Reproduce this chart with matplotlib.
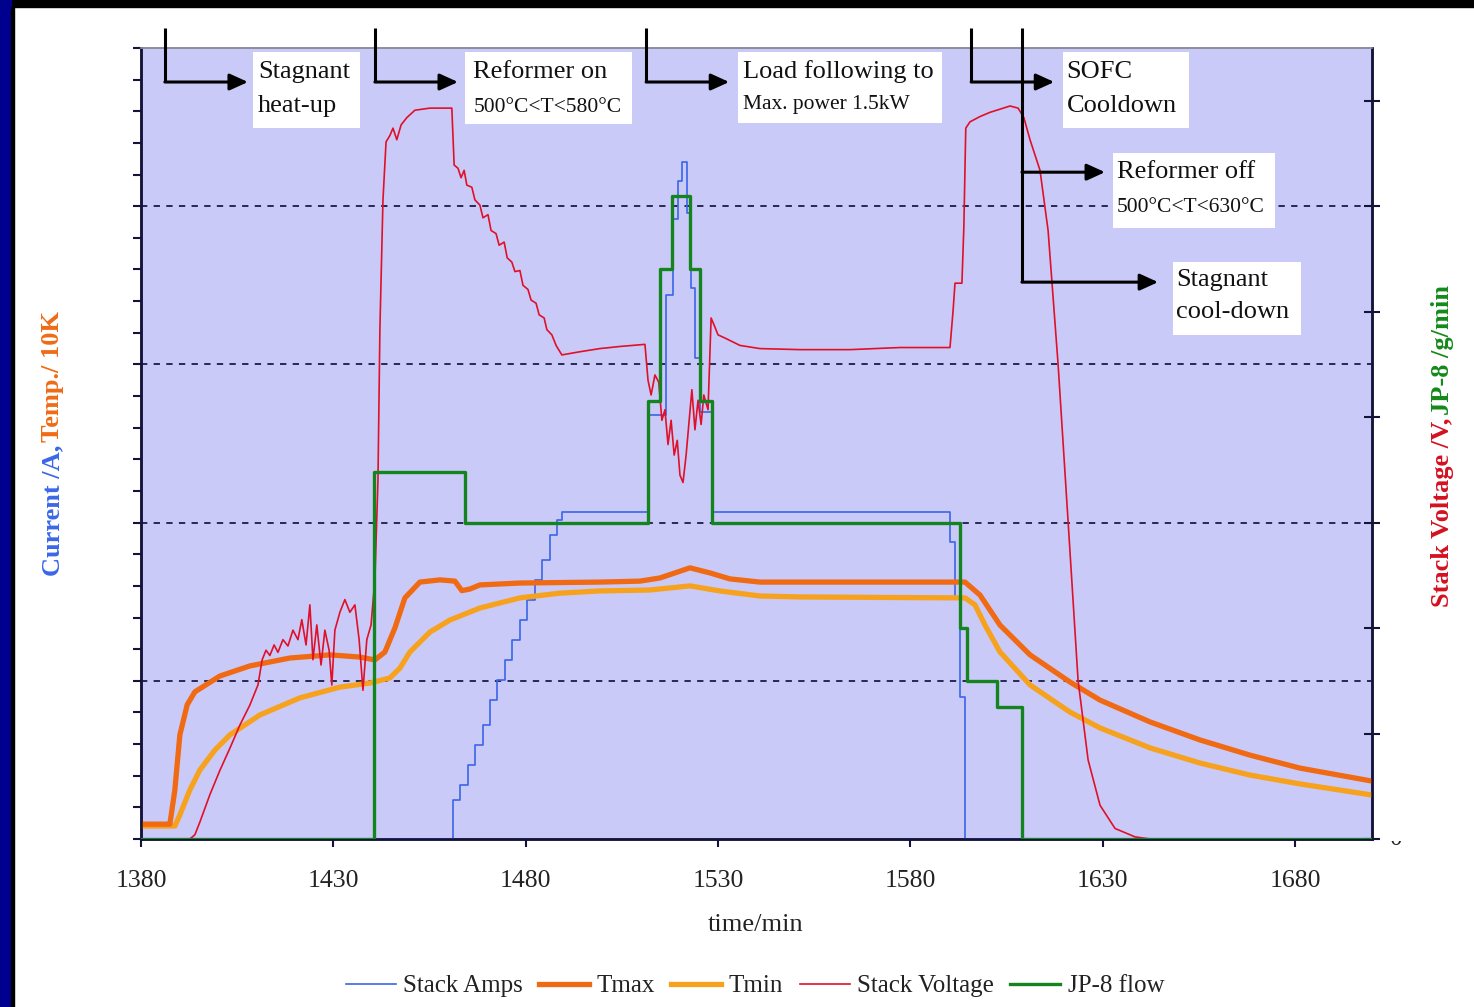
import matplotlib
matplotlib.use('Agg')
import matplotlib.pyplot as plt
from matplotlib.patches import Rectangle
from matplotlib.lines import Line2D
from matplotlib.transforms import Bbox, TransformedBbox, blended_transform_factory

plt.rcParams['font.family'] = ['Liberation Serif', 'DejaVu Serif']

# Stack current (A) - stepwise load changes
amps_t = [1380, 1461.1, 1462.9, 1465.0, 1466.8, 1468.9, 1470.7, 1472.5, 1474.6, 1476.4,
          1478.5, 1480.3, 1482.4, 1484.2, 1486.3, 1488.1, 1489.4, 1511.8, 1516.5, 1518.4,
          1519.6, 1520.6, 1521.9, 1522.9, 1524.0, 1525.3, 1528.4, 1590.3, 1591.6, 1592.9,
          1594.2, 1700]
amps = [0, 1.23, 1.71, 2.34, 2.97, 3.60, 4.39, 5.03, 5.66, 6.29,
        6.92, 7.55, 8.19, 8.82, 9.61, 10.08, 10.34, 13.4, 17.2, 19.6,
        20.8, 21.4, 19.8, 17.4, 15.2, 13.5, 10.34, 9.4, 7.6, 4.5,
        0, 0]

# Stack temperatures (K/10)
tmax_t = [1380, 1387.5, 1388.8, 1390.1, 1392.0, 1394.0, 1400.5, 1408.3, 1418.7, 1429.1,
          1436.9, 1440.8, 1443.4, 1446.0, 1448.6, 1452.5, 1457.7, 1461.6, 1463.4, 1465.5,
          1468.1, 1478.5, 1499.3, 1509.7, 1514.9, 1522.7, 1527.9, 1533.1, 1540.9, 1594.2,
          1598.1, 1603.3, 1611.1, 1621.5, 1629.3, 1642.3, 1655.3, 1668.3, 1681.3, 1700]
tmax = [0.47, 0.47, 1.55, 3.29, 4.24, 4.65, 5.15, 5.47, 5.72, 5.82,
        5.75, 5.66, 5.91, 6.67, 7.62, 8.12, 8.19, 8.15, 7.85, 7.90,
        8.03, 8.09, 8.12, 8.15, 8.25, 8.57, 8.41, 8.22, 8.12, 8.12,
        7.71, 6.76, 5.82, 4.96, 4.39, 3.70, 3.13, 2.65, 2.24, 1.83]

tmin_t = [1380, 1388.8, 1390.1, 1392.7, 1395.3, 1399.2, 1403.1, 1410.9, 1421.3, 1431.7,
          1439.5, 1444.7, 1447.3, 1449.9, 1455.1, 1460.3, 1468.1, 1478.5, 1488.9, 1499.3,
          1512.3, 1522.7, 1530.5, 1540.9, 1551.3, 1594.2, 1596.8, 1599.4, 1603.3, 1611.1,
          1621.5, 1629.3, 1642.3, 1655.3, 1668.3, 1681.3, 1700]
tmin = [0.41, 0.41, 0.76, 1.55, 2.18, 2.81, 3.29, 3.92, 4.46, 4.80,
        4.93, 5.09, 5.40, 5.91, 6.54, 6.92, 7.30, 7.62, 7.77, 7.84,
        7.87, 8.00, 7.84, 7.68, 7.65, 7.62, 7.40, 6.76, 5.91, 4.87,
        4.01, 3.51, 2.88, 2.40, 2.02, 1.74, 1.39]

# Stack voltage (V)
volt_t = [1380, 1392.7, 1394.0, 1395.3, 1397.9, 1400.5, 1403.1, 1405.7, 1408.3, 1410.4,
          1411.5, 1412.5, 1413.5, 1414.6, 1415.6, 1416.9, 1418.2, 1419.5, 1420.8, 1421.8,
          1422.9, 1423.9, 1424.7, 1425.7, 1426.8, 1427.8, 1428.9, 1429.6, 1430.4, 1431.7,
          1433.0, 1434.3, 1435.6, 1436.7, 1437.7, 1438.7, 1439.8, 1440.8, 1441.6, 1442.1,
          1442.9, 1443.7, 1444.7, 1445.5, 1446.5, 1447.6, 1449.1, 1451.2, 1455.1, 1460.8,
          1461.4, 1462.4, 1463.2, 1464.0, 1464.7, 1466.0, 1466.8, 1468.1, 1468.9, 1470.2,
          1471.0, 1472.3, 1473.1, 1474.4, 1475.2, 1476.4, 1477.2, 1478.5, 1479.3, 1480.6,
          1481.4, 1482.7, 1483.5, 1484.8, 1485.5, 1486.8, 1487.9, 1489.4, 1494.1, 1499.3,
          1504.5, 1511.0, 1511.8, 1512.6, 1513.6, 1514.6, 1515.4, 1516.2, 1517.0, 1517.8,
          1518.6, 1519.4, 1520.1, 1520.9, 1521.7, 1522.5, 1523.2, 1524.0, 1524.8, 1525.6,
          1526.3, 1527.4, 1528.2, 1528.9, 1530.0, 1531.8, 1535.7, 1540.9, 1551.3, 1564.3,
          1577.3, 1590.3, 1591.1, 1591.6, 1593.4, 1593.9, 1594.4, 1595.5, 1598.1, 1600.7,
          1603.3, 1605.9, 1608.0, 1609.5, 1611.1, 1613.7, 1615.8, 1617.1, 1618.4, 1621.0,
          1623.6, 1626.2, 1629.3, 1633.2, 1638.4, 1642.3, 1700]
volt = [0, 0, 0.04, 0.16, 0.42, 0.65, 0.86, 1.08, 1.27, 1.46,
        1.70, 1.79, 1.74, 1.84, 1.77, 1.89, 1.83, 1.98, 1.89, 2.08,
        1.84, 2.22, 1.70, 2.03, 1.65, 1.98, 1.79, 1.46, 1.98, 2.15,
        2.27, 2.15, 2.22, 1.89, 1.41, 1.89, 2.03, 2.46, 3.40, 4.83,
        6.06, 6.61, 6.67, 6.74, 6.63, 6.77, 6.84, 6.91, 6.93, 6.93,
        6.39, 6.36, 6.27, 6.34, 6.20, 6.18, 6.06, 6.01, 5.89, 5.92,
        5.77, 5.74, 5.63, 5.66, 5.51, 5.47, 5.38, 5.39, 5.25, 5.21,
        5.11, 5.08, 4.97, 4.94, 4.83, 4.78, 4.68, 4.59, 4.62, 4.65,
        4.67, 4.69, 4.35, 4.21, 4.40, 4.33, 3.97, 4.07, 3.74, 3.97,
        3.64, 3.78, 3.45, 3.38, 3.64, 3.97, 4.26, 3.88, 4.16, 3.93,
        4.21, 4.07, 4.94, 4.88, 4.78, 4.75, 4.68, 4.65, 4.64, 4.64,
        4.66, 4.66, 5.01, 5.27, 5.27, 5.80, 6.74, 6.80, 6.85, 6.89,
        6.92, 6.95, 6.93, 6.84, 6.63, 6.34, 5.77, 5.14, 4.50, 3.01,
        1.50, 0.75, 0.32, 0.10, 0.02, 0, 0]

# JP-8 fuel flow (g/min) - setpoint steps
jp8_t = [1380, 1440.6, 1464.2, 1511.8, 1514.9, 1518.0, 1522.7, 1525.3, 1528.4, 1592.9,
         1594.7, 1602.5, 1609.0, 1700]
jp8 = [0, 3.48, 3.0, 4.15, 5.4, 6.1, 5.4, 4.15, 3.0, 2.0,
       1.5, 1.25, 0, 0]

# start of each operating phase
phase_t = [1386.2, 1440.8, 1511.3, 1595.8, 1609.0]

C_AMPS = '#3a66e8'
C_TMAX = '#f06a14'
C_TMIN = '#f7a21e'
C_VOLT = '#e01028'
C_JP8 = '#14851e'
AX_BG = '#cacaf8'

fig = plt.figure(figsize=(14.74, 10.07), dpi=100)
W, H = 1474, 1007

# slide frame
fig.add_artist(Rectangle((0, 1 - 7 / H), 1, 7 / H, transform=fig.transFigure, color='black', zorder=0))
fig.add_artist(Rectangle((0, 0), 11 / W, 1, transform=fig.transFigure, color='#00008f', zorder=0))
fig.add_artist(Rectangle((11 / W, 0), 3 / W, 1 - 7 / H, transform=fig.transFigure, color='black', zorder=0))

ax = fig.add_axes([141 / W, 168 / H, 1231 / W, 791 / H])
ax.set_facecolor(AX_BG)
ax2 = ax.twinx()

for a in (ax, ax2):
    for s in ('left', 'right', 'bottom'):
        a.spines[s].set_color('#14143a')
        a.spines[s].set_linewidth(1.8)
    a.spines['top'].set_color('#8c8c9c')
    a.spines['top'].set_linewidth(1.2)

ax.set_xlim(1380, 1700)
ax.set_xticks(range(1380, 1700, 50))
ax.tick_params(axis='x', direction='out', length=6, width=1.5, pad=16, labelsize=18.5, colors='#14143a',
               labelcolor='#222222')
ax.set_ylim(0, 25)
ax.set_yticks(range(0, 26))
ax.tick_params(axis='y', direction='out', length=6, width=1.5, labelleft=False, colors='#14143a')
ax2.set_ylim(0, 7.5)
ax2.set_yticks(range(0, 8))
ax2.tick_params(axis='y', direction='inout', length=11, width=1.5, labelright=False, colors='#14143a')

for v in (5, 10, 15, 20):
    ax.axhline(v, color='#1c1c48', lw=1.3, ls=(0, (3.5, 3.5)), zorder=1)

l_amps, = ax.plot(amps_t, amps, drawstyle='steps-post', color=C_AMPS, lw=1.2, zorder=3)
l_tmin, = ax.plot(tmin_t, tmin, color=C_TMIN, lw=3.8, zorder=3.5)
l_tmax, = ax.plot(tmax_t, tmax, color=C_TMAX, lw=3.8, zorder=4)
l_volt, = ax2.plot(volt_t, volt, color=C_VOLT, lw=1.2, zorder=3)
l_jp8, = ax2.plot(jp8_t, jp8, drawstyle='steps-post', color=C_JP8, lw=2.4, zorder=4)

# clipped "0" on the right axis
zero = ax2.text(1.0195, 0, '0', transform=ax2.transAxes, ha='center', va='center', fontsize=18,
                color='#222222', clip_on=True)
zero.set_clip_box(TransformedBbox(Bbox([[0, 0], [1, 166 / H]]), fig.transFigure))

# phase arrows
trans = blended_transform_factory(ax2.transData, ax2.transAxes)
ax2.set_xlim(1380, 1700)
arrow_kw = dict(arrowstyle='-|>,head_length=0.55,head_width=0.25', lw=2.2, color='black',
                shrinkA=0, shrinkB=0, mutation_scale=20)


def phase_arrow(t0, y, length):
    ax2.annotate('', xy=(t0 + length, y), xytext=(t0, y), xycoords=trans, textcoords=trans,
                 arrowprops=arrow_kw, annotation_clip=False, zorder=6)


for t0 in phase_t[:4]:
    ax2.plot([t0, t0], [1.025, 0.957], transform=trans, color='black', lw=2.2, clip_on=False,
             solid_capstyle='butt', zorder=6)
    phase_arrow(t0, 0.957, 21.6)
t5 = phase_t[4]
ax2.plot([t5, t5], [1.025, 0.704], transform=trans, color='black', lw=2.2, clip_on=False,
         solid_capstyle='butt', zorder=6)
phase_arrow(t5, 0.843, 21.6)
phase_arrow(t5, 0.704, 35.4)

# phase captions in white boxes (axes fractions)
boxes = [
    ((0.091, 0.899, 0.178, 0.995), 0.095, [('Stagnant', 0.970, 19), ('heat-up', 0.927, 19)]),
    ((0.263, 0.904, 0.399, 0.995), 0.270, [('Reformer on', 0.970, 19), ('500°C<T<580°C', 0.925, 15.5)]),
    ((0.485, 0.905, 0.651, 0.995), 0.489, [('Load following to', 0.970, 19), ('Max. power 1.5kW', 0.929, 15.5)]),
    ((0.749, 0.899, 0.851, 0.995), 0.752, [('SOFC', 0.970, 19), ('Cooldown', 0.927, 19)]),
    ((0.790, 0.772, 0.921, 0.867), 0.793, [('Reformer off', 0.843, 19), ('500°C<T<630°C', 0.798, 15.5)]),
    ((0.838, 0.637, 0.942, 0.729), 0.841, [('Stagnant', 0.707, 19), ('cool-down', 0.666, 19)]),
]
for (x0, y0, x1, y1), tx, lines in boxes:
    ax2.add_patch(Rectangle((x0, y0), x1 - x0, y1 - y0, transform=ax2.transAxes, facecolor='white',
                            edgecolor='none', zorder=7))
    for s, ty, fs in lines:
        ax2.text(tx, ty, s, transform=ax2.transAxes, ha='left', va='center', fontsize=fs,
                 color='#111111', zorder=8)

fig.text(756 / W, 1 - 925 / H, 'time/min', ha='center', va='center', fontsize=19, color='#222222')

# two-coloured axis titles
renderer = fig.canvas.get_renderer()


def stacked_label(x, y0, parts):
    y = y0
    for s, c in parts:
        t = fig.text(x, y, s, rotation=90, ha='center', va='bottom', color=c, fontsize=19,
                     fontweight='bold')
        bb = t.get_window_extent(renderer)
        y = (bb.y1 + 3) / fig.bbox.height


stacked_label(53 / W, 1 - 576 / H, [('Current /A,', C_AMPS), ('Temp./ 10K', C_TMAX)])
stacked_label(1442 / W, 1 - 607 / H, [('Stack Voltage /V,', '#d41020'), ('JP-8 /g/min', '#128a18')])

handles = [Line2D([], [], color=C_AMPS, lw=1.2), Line2D([], [], color=C_TMAX, lw=3.8),
           Line2D([], [], color=C_TMIN, lw=3.8), Line2D([], [], color=C_VOLT, lw=1.2),
           Line2D([], [], color=C_JP8, lw=2.4)]
labels = ['Stack Amps', 'Tmax', 'Tmin', 'Stack Voltage', 'JP-8 flow']
leg = fig.legend(handles, labels, loc='center', bbox_to_anchor=(755 / W, 1 - 986 / H), ncol=5,
                 frameon=False, fontsize=18, handlelength=2.0, handletextpad=0.3, columnspacing=0.65)
for t in leg.get_texts():
    t.set_color('#222222')

fig.savefig('out.png', dpi=100)
